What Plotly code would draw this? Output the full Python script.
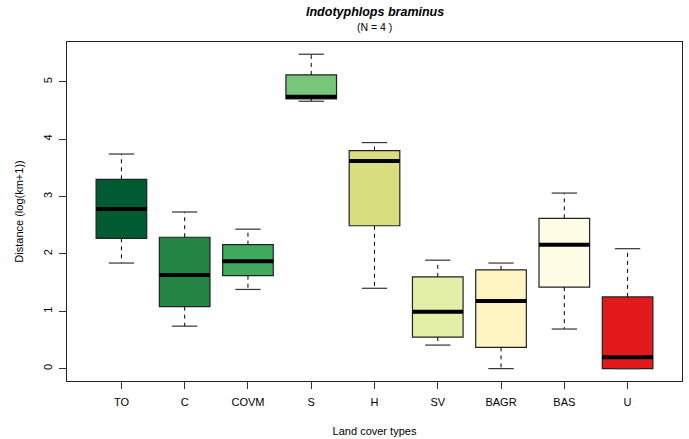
import plotly.graph_objects as go

categories = ["TO", "C", "COVM", "S", "H", "SV", "BAGR", "BAS", "U"]
lower = [1.84, 0.74, 1.38, 4.66, 1.40, 0.41, 0.00, 0.69, 0.00]
q1 = [2.27, 1.08, 1.62, 4.70, 2.49, 0.55, 0.37, 1.42, 0.00]
median = [2.78, 1.63, 1.87, 4.74, 3.62, 0.99, 1.18, 2.16, 0.20]
q3 = [3.30, 2.29, 2.16, 5.12, 3.80, 1.60, 1.72, 2.62, 1.25]
upper = [3.74, 2.73, 2.43, 5.48, 3.94, 1.89, 1.84, 3.06, 2.09]
colors = ["#005A32", "#238443", "#41AB5D", "#78C679", "#D8DE7E",
          "#E3EFA6", "#FFF5C2", "#FFFDE6", "#E31A1C"]
yticks = [0, 1, 2, 3, 4, 5]

pos = list(range(1, len(categories) + 1))
half = 0.4      # half box width
cap = 0.2       # half staple width

fig = go.Figure()

# boxes
fig.add_trace(go.Bar(
    x=pos, base=q1, y=[b - a for a, b in zip(q1, q3)], width=2 * half,
    marker=dict(color=colors, line=dict(color="#222222", width=1.2)),
    hoverinfo="skip"))

# dashed whiskers
wx, wy = [], []
for p, lo, a, b, hi in zip(pos, lower, q1, q3, upper):
    wx += [p, p, None, p, p, None]
    wy += [b, hi, None, a, lo, None]
fig.add_trace(go.Scatter(x=wx, y=wy, mode="lines",
                         line=dict(color="black", width=1, dash="4px,4px"),
                         hoverinfo="skip"))

# staples
sx, sy = [], []
for p, lo, hi in zip(pos, lower, upper):
    sx += [p - cap, p + cap, None, p - cap, p + cap, None]
    sy += [hi, hi, None, lo, lo, None]
fig.add_trace(go.Scatter(x=sx, y=sy, mode="lines",
                         line=dict(color="#333333", width=1.2),
                         hoverinfo="skip"))

# medians
mx, my = [], []
for p, m in zip(pos, median):
    mx += [p - half, p + half, None]
    my += [m, m, None]
fig.add_trace(go.Scatter(x=mx, y=my, mode="lines",
                         line=dict(color="black", width=4),
                         hoverinfo="skip"))

font = "Liberation Sans, Arial, sans-serif"
fig.update_layout(
    width=689, height=439,
    margin=dict(l=67, r=7, t=42, b=58, autoexpand=False),
    paper_bgcolor="white", plot_bgcolor="white",
    showlegend=False,
    font=dict(family=font, size=11, color="black"),
    annotations=[
        dict(text="<b><i>Indotyphlops braminus</i></b>", xref="paper", yref="paper",
             x=0.5, y=1.089, xanchor="center", yanchor="middle", showarrow=False,
             font=dict(size=12.5, family=font)),
        dict(text="(N = 4 )", xref="paper", yref="paper",
             x=0.5, y=1.044, xanchor="center", yanchor="middle", showarrow=False,
             font=dict(size=10.5, family=font)),
    ],
    xaxis=dict(range=[0.14, 9.86], tickvals=pos, ticktext=categories,
               showline=True, mirror=True, linecolor="#222222", linewidth=1.2,
               ticks="outside", ticklen=7, tickcolor="#333333",
               showgrid=False, zeroline=False, automargin=False,
               ticklabelstandoff=4,
               title=dict(text="Land cover types", font=dict(size=11), standoff=20),
               tickfont=dict(size=11)),
    yaxis=dict(range=[-0.216, 5.693], tickvals=yticks,
               ticktext=[str(v) for v in yticks],
               showline=True, mirror=True, linecolor="#222222", linewidth=1.2,
               ticks="outside", ticklen=7, tickcolor="#333333",
               tickangle=-90, showgrid=False, zeroline=False, automargin=False,
               ticklabelstandoff=3,
               title=dict(text="Distance (log(km+1))", font=dict(size=11), standoff=15),
               tickfont=dict(size=11)),
)

fig.write_html("out.html", config={"displayModeBar": False},
               post_script="document.body.style.margin='0';")
